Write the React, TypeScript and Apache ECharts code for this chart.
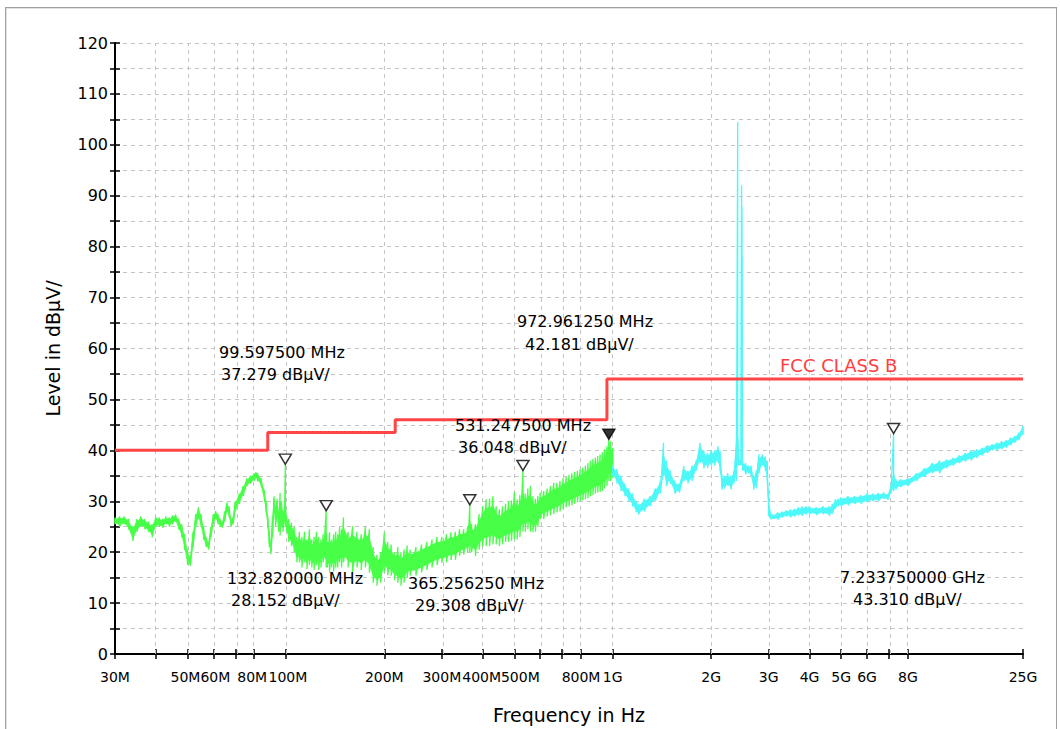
import React, { useEffect, useRef } from 'react';
import * as echarts from 'echarts';

// ---------- axis data ----------
const xMinHz = 30e6;
const xMaxHz = 18e9; // right edge of the plotted span (labelled "25G" in the reference)
const xTickFreqHz = [30e6, 40e6, 50e6, 60e6, 70e6, 80e6, 100e6, 200e6, 300e6, 400e6, 500e6, 600e6, 700e6, 800e6, 1e9, 2e9, 3e9, 4e9, 5e9, 6e9, 7e9, 8e9, 18e9];
const xLabelFreqHz = [30e6, 50e6, 60e6, 80e6, 100e6, 200e6, 300e6, 400e6, 500e6, 800e6, 1e9, 2e9, 3e9, 4e9, 5e9, 6e9, 8e9, 18e9];
const xLabelText = ['30M', '50M', '60M', '80M', '100M', '200M', '300M', '400M', '500M', '800M', '1G', '2G', '3G', '4G', '5G', '6G', '8G', '25G'];
const yMin = 0;
const yMax = 120;
const yStep = 5;
const yLabelStep = 10;

// ---------- limit line (FCC CLASS B) ----------
const limitFreqMHz = [30, 88, 88, 216, 216, 960, 960, 18000];
const limitLevel = [40, 40, 43.5, 43.5, 46, 46, 54, 54];

// ---------- green trace 30 MHz - 1 GHz (low / high of the noise band) ----------
const greenFreqMHz = [
  30, 31, 32, 33, 34, 35, 36, 37, 38, 39,
  40, 41, 42, 43, 44, 45, 46, 47, 48, 49,
  50, 51, 52, 53, 54, 55, 56, 57, 58, 59,
  60, 61, 62, 63, 64, 65, 66, 67, 68, 69,
  70, 72, 74, 76, 78, 80, 81, 82, 84, 86,
  87, 88, 89, 90, 91, 92, 93, 94, 95, 96,
  97, 98, 99, 99.5975, 100.5, 102, 104, 106, 108, 110,
  112, 114, 116, 118, 120, 122, 124, 126, 128, 130,
  132.82, 134, 136, 138, 140, 142, 144, 146, 148, 150,
  155, 160, 165, 170, 175, 180, 185, 190, 195, 200,
  205, 210, 215, 220, 225, 230, 235, 240, 250, 260,
  270, 280, 290, 300, 310, 320, 330, 340, 350, 360,
  365.25625, 370, 380, 390, 400, 410, 420, 430, 440, 450,
  460, 470, 480, 490, 500, 510, 520, 531.2475, 540, 550,
  560, 570, 580, 590, 600, 615, 630, 645, 660, 675,
  690, 705, 720, 735, 750, 765, 780, 795, 810, 825,
  840, 855, 870, 885, 900, 915, 930, 945, 960, 972.96125,
  985, 1000,
];
const greenLo = [
  25.5, 25.0, 25.5, 24.5, 22.2, 24.0, 25.0, 24.5, 24.0, 22.9,
  25.0, 25.0, 24.8, 25.5, 25.0, 25.5, 26.0, 24.5, 23.0, 20.5,
  17.5, 17.3, 21.0, 25.0, 26.5, 25.0, 22.5, 21.0, 20.5, 23.0,
  25.5, 26.5, 25.5, 25.0, 24.8, 26.0, 28.0, 27.0, 25.0, 25.5,
  28.0, 29.5, 31.0, 33.0, 33.5, 34.0, 34.5, 34.0, 33.0, 30.0,
  28.0, 25.0, 21.0, 19.6, 23.0, 28.0, 25.0, 27.0, 24.0, 23.3,
  25.0, 24.0, 26.0, 25.0, 24.0, 22.0, 21.2, 20.0, 18.0, 18.0,
  17.0, 18.0, 16.7, 17.5, 17.0, 16.5, 17.5, 16.5, 17.0, 18.0,
  17.0, 17.0, 16.0, 17.0, 16.2, 17.0, 17.0, 18.0, 17.0, 18.0,
  17.0, 16.0, 17.0, 16.5, 17.0, 16.0, 14.0, 13.4, 14.0, 16.0,
  15.5, 15.4, 14.5, 14.0, 13.4, 14.0, 15.0, 15.4, 15.4, 16.0,
  16.5, 17.0, 17.5, 17.9, 18.0, 18.5, 18.5, 19.3, 19.5, 20.0,
  20.0, 20.0, 19.2, 20.5, 21.0, 21.2, 21.2, 21.5, 21.5, 21.2,
  21.5, 22.0, 22.0, 22.2, 22.5, 22.5, 23.0, 24.0, 24.0, 24.5,
  24.0, 23.9, 24.0, 25.0, 26.5, 26.5, 27.0, 27.2, 27.5, 27.8,
  28.0, 28.5, 28.8, 29.0, 29.2, 29.5, 29.8, 30.0, 30.2, 30.4,
  30.6, 31.0, 31.2, 31.5, 31.7, 31.8, 32.0, 32.5, 33.0, 34.0,
  34.0, 34.5,
];
const greenHi = [
  26.8, 27.0, 27.0, 26.5, 25.0, 26.5, 27.0, 26.5, 26.0, 25.5,
  27.0, 26.8, 26.5, 27.0, 26.8, 27.2, 27.4, 26.5, 25.5, 23.5,
  20.5, 19.0, 24.0, 27.5, 28.8, 27.5, 25.0, 23.0, 22.0, 25.0,
  27.5, 28.1, 27.5, 26.5, 26.0, 28.0, 29.8, 29.0, 26.5, 27.0,
  30.0, 31.5, 33.0, 34.5, 35.0, 35.5, 35.7, 35.5, 34.5, 32.0,
  30.0, 27.0, 24.0, 22.0, 27.0, 31.0, 29.0, 30.5, 28.0, 31.6,
  30.0, 28.0, 29.0, 37.279, 27.0, 26.5, 25.8, 25.0, 23.0, 24.0,
  23.0, 24.0, 22.5, 24.5, 22.5, 23.0, 24.0, 23.0, 22.5, 23.5,
  28.152, 22.0, 23.9, 22.5, 23.5, 24.0, 23.5, 25.0, 24.5, 26.8,
  24.0, 25.1, 24.0, 23.5, 25.0, 24.5, 21.0, 19.5, 20.0, 23.9,
  22.0, 21.5, 20.0, 21.0, 20.0, 20.5, 21.3, 20.5, 21.0, 21.5,
  22.0, 22.5, 23.0, 23.0, 23.5, 23.9, 24.0, 24.5, 24.5, 25.0,
  29.308, 25.5, 25.5, 27.5, 29.0, 30.4, 30.5, 31.0, 29.0, 28.4,
  29.0, 29.5, 30.0, 30.2, 31.8, 30.4, 31.2, 36.048, 31.5, 32.5,
  33.0, 31.0, 30.5, 31.0, 31.7, 32.0, 32.5, 33.0, 33.6, 33.6,
  34.0, 34.5, 34.8, 35.2, 35.5, 35.8, 36.0, 36.3, 36.6, 37.0,
  37.5, 38.0, 38.3, 38.6, 38.9, 39.2, 39.6, 40.2, 40.8, 42.181,
  41.8, 40.5,
];

// ---------- cyan trace 1 GHz - 18 GHz ----------
const cyanFreqMHz = [
  1000, 1030, 1060, 1090, 1120, 1150, 1180, 1200, 1250, 1300,
  1350, 1400, 1430, 1460, 1500, 1550, 1600, 1650, 1700, 1750,
  1800, 1850, 1900, 1950, 2000, 2050, 2100, 2130, 2160, 2200,
  2250, 2300, 2350, 2390, 2412, 2440, 2470, 2478, 2484, 2500,
  2550, 2600, 2650, 2700, 2750, 2800, 2870, 2930, 2970, 3000,
  3050, 3100, 3200, 3300, 3400, 3500, 3600, 3700, 3800, 3900,
  4000, 4200, 4400, 4600, 4700, 4800, 4900, 5000, 5250, 5500,
  5750, 6000, 6250, 6500, 6750, 6950, 7100, 7233.75, 7350, 7600,
  8000, 8500, 9000, 9500, 10000, 10500, 11000, 11500, 12000, 12500,
  13000, 13500, 14000, 14500, 15000, 15500, 16000, 16500, 17000, 17500,
  18000,
];
const cyanLo = [
  35.0, 33.5, 32.0, 31.0, 30.0, 29.0, 27.8, 27.4, 28.0, 29.0,
  30.0, 31.5, 35.0, 33.0, 33.5, 31.5, 31.7, 34.0, 33.5, 34.0,
  36.0, 37.5, 36.5, 36.5, 37.0, 37.0, 37.5, 36.0, 32.3, 32.5,
  33.0, 32.3, 33.5, 34.0, 37.0, 37.0, 37.0, 78.0, 37.0, 36.0,
  35.3, 35.5, 35.0, 32.3, 32.5, 35.5, 37.0, 36.0, 34.0, 27.1,
  26.4, 26.5, 26.4, 26.8, 27.0, 26.8, 27.0, 27.2, 27.1, 27.4,
  27.5, 27.3, 27.5, 27.1, 27.5, 28.5, 29.0, 29.0, 29.2, 29.5,
  29.5, 29.8, 30.0, 30.0, 30.5, 30.2, 31.5, 32.0, 32.3, 32.8,
  33.0, 34.0, 34.8, 35.5, 35.5, 36.5, 37.0, 37.5, 37.8, 38.0,
  38.5, 39.0, 39.5, 40.0, 40.0, 40.2, 40.5, 41.0, 41.5, 42.0,
  43.0,
];
const cyanHi = [
  37.0, 36.3, 35.0, 33.5, 32.5, 31.5, 30.0, 29.5, 30.5, 31.0,
  32.5, 34.0, 41.5, 38.0, 36.0, 34.0, 33.5, 36.9, 36.0, 37.0,
  38.0, 41.5, 40.0, 39.5, 40.0, 40.0, 40.8, 40.0, 35.0, 35.0,
  35.5, 35.0, 36.0, 42.0, 104.5, 38.0, 38.5, 92.0, 88.0, 37.6,
  37.5, 37.0, 37.0, 35.0, 36.0, 39.2, 39.2, 38.8, 38.0, 30.0,
  27.6, 27.4, 27.8, 28.0, 28.2, 28.4, 28.5, 28.8, 29.0, 29.0,
  29.0, 28.8, 29.0, 29.0, 29.5, 30.4, 30.5, 30.8, 31.0, 31.0,
  31.2, 31.5, 31.5, 31.6, 31.7, 31.4, 33.0, 43.31, 34.3, 34.3,
  34.5, 35.5, 36.5, 37.5, 38.0, 38.2, 38.5, 39.0, 39.5, 40.0,
  40.2, 40.5, 41.0, 41.2, 41.5, 41.8, 42.0, 42.5, 42.8, 43.5,
  44.8,
];

// ---------- markers ----------
const markerFreqMHz = [99.5975, 132.82, 365.25625, 531.2475, 972.96125, 7233.75];
const markerLevel = [37.279, 28.152, 29.308, 36.048, 42.181, 43.31];
const activeMarker = 4;

// ---------- layout (pixels, not data) ----------
// marker label boxes: [line1 x, line1 y, line2 x, line2 y]
const markerLabelLayout = [
  [219, 352, 221, 374],
  [227, 578, 231, 600],
  [408, 583, 415, 605],
  [455, 425, 458, 447],
  [517, 321, 525, 344],
  [840, 577, 853, 599],
];
// small horizontal nudges of crowded tick labels (px, negative = left)
const xLabelNudge = [0, -2, 2, -2, 2, 0, 0, -1, 6, 0, 0, 0, 0, 0, 0, 0, 0, 0];

const FONT = '"DejaVu Sans", "Liberation Sans", Arial, sans-serif';
const GREEN = '#48ff48';
const CYAN = '#4ef8f8';
const CORE = 0.2; // share of the noise band left to the jagged trace on each side
const lg = (hz: number) => Math.log10(hz);
const lgM = (mhz: number) => Math.log10(mhz * 1e6);

function zigzag(f: number[], lo: number[], hi: number[]) {
  const out: number[][] = [];
  for (let i = 0; i < f.length; i++) {
    out.push([lgM(f[i]), hi[i]]);
    out.push([lgM(f[i]), lo[i]]);
  }
  return out;
}

// solid core of the noise band; isolated narrow peaks are left to the trace only
function bandSegments(f: number[], lo: number[], hi: number[]) {
  const top: number[] = [];
  const bot: number[] = [];
  hi.forEach((h, i) => {
    const prev = i > 0 ? hi[i - 1] : -Infinity;
    const next = i < hi.length - 1 ? hi[i + 1] : -Infinity;
    const fh = Math.max(lo[i], Math.min(h, Math.max(prev, next) + 2));
    const d = fh - lo[i];
    top.push(fh - d * CORE);
    bot.push(lo[i] + d * CORE);
  });
  const segs: number[][] = [];
  for (let i = 0; i < f.length - 1; i++) {
    segs.push([lgM(f[i]), bot[i], top[i], lgM(f[i + 1]), bot[i + 1], top[i + 1]]);
  }
  return segs;
}

function bandSeries(f: number[], lo: number[], hi: number[], color: string) {
  return {
    type: 'custom', z: 2, silent: true,
    data: bandSegments(f, lo, hi),
    encode: { x: [0, 3], y: [1, 2, 4, 5] },
    renderItem: (_params: any, api: any) => {
      const p1 = api.coord([api.value(0), api.value(2)]);
      const p2 = api.coord([api.value(3), api.value(5)]);
      const p3 = api.coord([api.value(3), api.value(4)]);
      const p4 = api.coord([api.value(0), api.value(1)]);
      return {
        type: 'polygon',
        shape: { points: [p1, p2, p3, p4] },
        style: { fill: color, stroke: color, lineWidth: 0.8 },
      };
    },
  };
}

function markerText(i: number) {
  const f = markerFreqMHz[i];
  const l1 = f >= 1000 ? (f / 1000).toFixed(9) + ' GHz' : f.toFixed(6) + ' MHz';
  const l2 = markerLevel[i].toFixed(3) + ' dBµV/';
  return [l1, l2];
}

export default function App() {
  const ref = useRef<HTMLDivElement>(null);

  useEffect(() => {
    if (!ref.current) return;
    const chart = echarts.init(ref.current, undefined, { renderer: 'svg' });

    const xTickVals = xTickFreqHz.map(lg);
    const xLabelVals = xLabelFreqHz.map(lg);
    const xGridVals = xTickFreqHz.slice(1).map(lg);
    const xMin = lg(xMinHz);
    const xMax = lg(xMaxHz);

    const labelBase = { fontSize: 14, fontFamily: FONT, color: '#000' };
    const rich: any = { n0: { ...labelBase } };
    xLabelNudge.forEach((s, i) => {
      if (s !== 0) {
        rich['n' + i] = { ...labelBase, padding: s < 0 ? [0, -2 * s, 0, 0] : [0, 0, 0, 2 * s] };
      }
    });
    const labelFor = (v: number) => {
      const i = xLabelVals.findIndex((w) => Math.abs(w - v) < 1e-6);
      if (i < 0) return '';
      const key = xLabelNudge[i] !== 0 ? 'n' + i : 'n0';
      return `{${key}|${xLabelText[i]}}`;
    };

    const axisLineStyle = { color: '#000', width: 2 };
    const tickStyle = { color: '#000', width: 1.5 };

    const graphics: any[] = [];
    markerFreqMHz.forEach((_, i) => {
      const [t1, t2] = markerText(i);
      const p = markerLabelLayout[i];
      graphics.push({
        type: 'text', x: p[0], y: p[1], z: 10,
        style: { text: t1, font: `16px ${FONT}`, fill: '#000', textAlign: 'left', textVerticalAlign: 'middle' },
      });
      graphics.push({
        type: 'text', x: p[2], y: p[3], z: 10,
        style: { text: t2, font: `16px ${FONT}`, fill: '#000', textAlign: 'left', textVerticalAlign: 'middle' },
      });
    });
    graphics.push({
      type: 'text', x: 780, y: 365, z: 10,
      style: { text: 'FCC CLASS B', font: `18px ${FONT}`, fill: '#ff4040', textAlign: 'left', textVerticalAlign: 'middle' },
    });

    const option: any = {
      animation: false,
      backgroundColor: '#ffffff',
      textStyle: { fontFamily: FONT },
      grid: { left: 115, right: 37, top: 43, bottom: 74, containLabel: false },
      xAxis: [
        {
          type: 'value', min: xMin, max: xMax, position: 'bottom',
          axisLine: { show: true, onZero: false, lineStyle: axisLineStyle },
          axisTick: { show: true, customValues: xTickVals, length: 5, lineStyle: tickStyle },
          axisLabel: {
            show: true, customValues: xLabelVals, formatter: labelFor,
            color: '#000', fontSize: 14, fontFamily: FONT, margin: 16, rich,
          },
          splitLine: { show: false },
          name: 'Frequency in Hz', nameLocation: 'middle', nameGap: 51,
          nameTextStyle: { color: '#000', fontSize: 19, fontFamily: FONT },
        },
        {
          type: 'value', min: xMin, max: xMax, position: 'bottom',
          axisLine: { show: false, onZero: false },
          axisTick: { show: true, inside: true, customValues: xTickVals, length: 5, lineStyle: tickStyle },
          axisLabel: { show: false },
          splitLine: { show: false },
        },
      ],
      yAxis: [
        {
          type: 'value', min: yMin, max: yMax, interval: yStep, position: 'left',
          axisLine: { show: true, onZero: false, lineStyle: axisLineStyle },
          axisTick: { show: true, length: 5, lineStyle: tickStyle },
          axisLabel: {
            color: '#000', fontSize: 16, fontFamily: FONT, margin: 7,
            formatter: (v: number) => (v % yLabelStep === 0 ? String(v) : ''),
          },
          splitLine: { show: true, lineStyle: { color: '#c4c4c4', type: [4, 4], width: 1 } },
          name: 'Level in dBµV/', nameLocation: 'middle', nameGap: 53,
          nameTextStyle: { color: '#000', fontSize: 19, fontFamily: FONT },
        },
        {
          type: 'value', min: yMin, max: yMax, interval: yStep, position: 'left',
          axisLine: { show: false, onZero: false },
          axisTick: { show: true, inside: true, length: 5, lineStyle: tickStyle },
          axisLabel: { show: false },
          splitLine: { show: false },
        },
      ],
      series: [
        bandSeries(greenFreqMHz, greenLo, greenHi, GREEN),
        {
          name: 'green', type: 'line', z: 3, showSymbol: false, symbol: 'none', silent: true,
          data: zigzag(greenFreqMHz, greenLo, greenHi),
          lineStyle: { color: GREEN, width: 1.3 },
        },
        bandSeries(cyanFreqMHz, cyanLo, cyanHi, CYAN),
        {
          name: 'cyan', type: 'line', z: 3, showSymbol: false, symbol: 'none', silent: true,
          data: zigzag(cyanFreqMHz, cyanLo, cyanHi),
          lineStyle: { color: CYAN, width: 1.3 },
        },
        {
          name: 'FCC CLASS B', type: 'line', z: 5, showSymbol: false, symbol: 'none', silent: true,
          data: limitFreqMHz.map((f, i) => [lgM(f), limitLevel[i]]),
          lineStyle: { color: '#ff4545', width: 3 },
          markLine: {
            silent: true, z: 1, symbol: ['none', 'none'], label: { show: false },
            lineStyle: { color: '#c4c4c4', type: [4, 4], width: 1 },
            emphasis: { disabled: true },
            data: xGridVals.map((v) => ({ xAxis: v })),
          },
        },
        {
          name: 'markers', type: 'scatter', z: 6, silent: true,
          symbol: 'path://M0,0L12,0L6,10Z', symbolSize: [12, 10], symbolOffset: [0, '-50%'],
          data: markerFreqMHz.map((f, i) => ({
            value: [lgM(f), markerLevel[i]],
            itemStyle: { color: i === activeMarker ? '#000' : '#fff', borderColor: '#000', borderWidth: 1.5 },
          })),
        },
      ],
      graphic: graphics,
    };

    chart.setOption(option);
    return () => chart.dispose();
  }, []);

  return (
    <div style={{ position: 'fixed', left: 0, top: 0, width: 1060, height: 729, background: '#fff', overflow: 'hidden' }}>
      <div ref={ref} style={{ position: 'absolute', left: 0, top: 0, width: 1060, height: 729 }} />
      <div
        style={{
          position: 'absolute', left: 5, top: 7, width: 1050, height: 760,
          borderLeft: '1px solid #a0a0a0', borderTop: '1px solid #a0a0a0', borderRight: '1px solid #a0a0a0',
          boxShadow: 'inset 1px 1px 0 #e2e2e2', pointerEvents: 'none', zIndex: 2,
        }}
      />
    </div>
  );
}
